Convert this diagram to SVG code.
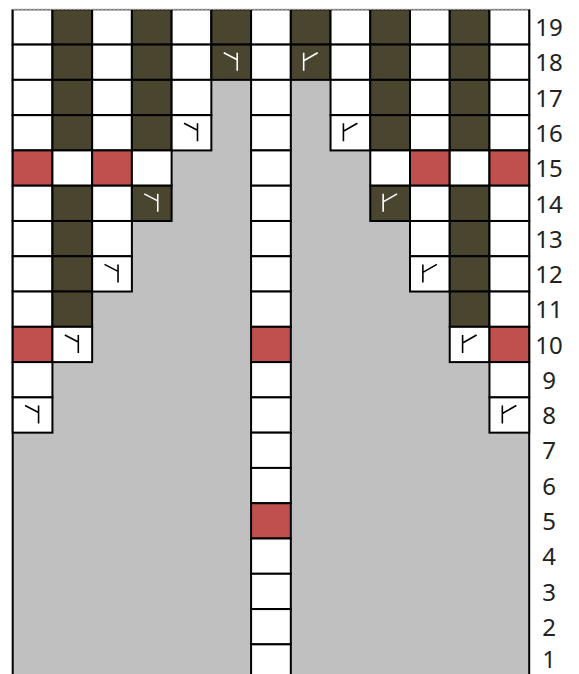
<svg xmlns="http://www.w3.org/2000/svg" xmlns:xlink="http://www.w3.org/1999/xlink" width="579" height="674" viewBox="0 0 579 674">
<style>
.w{fill:#ffffff;stroke:#000;stroke-width:2}
.d{fill:#4a452e;stroke:#000;stroke-width:2}
.r{fill:#c0504d;stroke:#000;stroke-width:2}
.sb{stroke:#000;stroke-width:1.6;fill:none}
.sw{stroke:#fff;stroke-width:1.6;fill:none}
.lbl{font-family:"Noto Sans","DejaVu Sans",sans-serif;font-size:24px;fill:#222;text-anchor:middle}
</style>
<defs>
<path id="symL" d="M-7.5,-9.5 L6,-2.5 M6,-9.5 V8.5"/>
<path id="symR" d="M7,-9.5 L-7,-1.5 M-7,-9.5 V8.5"/>
</defs>
<rect x="0" y="0" width="579" height="674" fill="#fff"/>
<rect id="background" x="12.7" y="9.3" width="516.5" height="680" fill="#c0c0c0" stroke="#000" stroke-width="2"/>
<g id="row19">
<rect class="w" x="12.7" y="9.3" width="39.73" height="35.28"/>
<rect class="d" x="52.43" y="9.3" width="39.73" height="35.28"/>
<rect class="w" x="92.16" y="9.3" width="39.73" height="35.28"/>
<rect class="d" x="131.89" y="9.3" width="39.73" height="35.28"/>
<rect class="w" x="171.62" y="9.3" width="39.73" height="35.28"/>
<rect class="d" x="211.35" y="9.3" width="39.73" height="35.28"/>
<rect class="w" x="251.08" y="9.3" width="39.73" height="35.28"/>
<rect class="d" x="290.81" y="9.3" width="39.73" height="35.28"/>
<rect class="w" x="330.54" y="9.3" width="39.73" height="35.28"/>
<rect class="d" x="370.27" y="9.3" width="39.73" height="35.28"/>
<rect class="w" x="410" y="9.3" width="39.73" height="35.28"/>
<rect class="d" x="449.73" y="9.3" width="39.73" height="35.28"/>
<rect class="w" x="489.46" y="9.3" width="39.73" height="35.28"/>
</g>
<g id="row18">
<rect class="w" x="12.7" y="44.58" width="39.73" height="35.28"/>
<rect class="d" x="52.43" y="44.58" width="39.73" height="35.28"/>
<rect class="w" x="92.16" y="44.58" width="39.73" height="35.28"/>
<rect class="d" x="131.89" y="44.58" width="39.73" height="35.28"/>
<rect class="w" x="171.62" y="44.58" width="39.73" height="35.28"/>
<rect class="d" x="211.35" y="44.58" width="39.73" height="35.28"/>
<rect class="w" x="251.08" y="44.58" width="39.73" height="35.28"/>
<rect class="d" x="290.81" y="44.58" width="39.73" height="35.28"/>
<rect class="w" x="330.54" y="44.58" width="39.73" height="35.28"/>
<rect class="d" x="370.27" y="44.58" width="39.73" height="35.28"/>
<rect class="w" x="410" y="44.58" width="39.73" height="35.28"/>
<rect class="d" x="449.73" y="44.58" width="39.73" height="35.28"/>
<rect class="w" x="489.46" y="44.58" width="39.73" height="35.28"/>
<use xlink:href="#symL" href="#symL" class="sw" x="231.22" y="62.22"/>
<use xlink:href="#symR" href="#symR" class="sw" x="310.68" y="62.22"/>
</g>
<g id="row17">
<rect class="w" x="12.7" y="79.86" width="39.73" height="35.28"/>
<rect class="d" x="52.43" y="79.86" width="39.73" height="35.28"/>
<rect class="w" x="92.16" y="79.86" width="39.73" height="35.28"/>
<rect class="d" x="131.89" y="79.86" width="39.73" height="35.28"/>
<rect class="w" x="171.62" y="79.86" width="39.73" height="35.28"/>
<rect class="w" x="251.08" y="79.86" width="39.73" height="35.28"/>
<rect class="w" x="330.54" y="79.86" width="39.73" height="35.28"/>
<rect class="d" x="370.27" y="79.86" width="39.73" height="35.28"/>
<rect class="w" x="410" y="79.86" width="39.73" height="35.28"/>
<rect class="d" x="449.73" y="79.86" width="39.73" height="35.28"/>
<rect class="w" x="489.46" y="79.86" width="39.73" height="35.28"/>
</g>
<g id="row16">
<rect class="w" x="12.7" y="115.14" width="39.73" height="35.28"/>
<rect class="d" x="52.43" y="115.14" width="39.73" height="35.28"/>
<rect class="w" x="92.16" y="115.14" width="39.73" height="35.28"/>
<rect class="d" x="131.89" y="115.14" width="39.73" height="35.28"/>
<rect class="w" x="171.62" y="115.14" width="39.73" height="35.28"/>
<rect class="w" x="251.08" y="115.14" width="39.73" height="35.28"/>
<rect class="w" x="330.54" y="115.14" width="39.73" height="35.28"/>
<rect class="d" x="370.27" y="115.14" width="39.73" height="35.28"/>
<rect class="w" x="410" y="115.14" width="39.73" height="35.28"/>
<rect class="d" x="449.73" y="115.14" width="39.73" height="35.28"/>
<rect class="w" x="489.46" y="115.14" width="39.73" height="35.28"/>
<use xlink:href="#symL" href="#symL" class="sb" x="191.49" y="132.78"/>
<use xlink:href="#symR" href="#symR" class="sb" x="350.41" y="132.78"/>
</g>
<g id="row15">
<rect class="r" x="12.7" y="150.42" width="39.73" height="35.28"/>
<rect class="w" x="52.43" y="150.42" width="39.73" height="35.28"/>
<rect class="r" x="92.16" y="150.42" width="39.73" height="35.28"/>
<rect class="w" x="131.89" y="150.42" width="39.73" height="35.28"/>
<rect class="w" x="251.08" y="150.42" width="39.73" height="35.28"/>
<rect class="w" x="370.27" y="150.42" width="39.73" height="35.28"/>
<rect class="r" x="410" y="150.42" width="39.73" height="35.28"/>
<rect class="w" x="449.73" y="150.42" width="39.73" height="35.28"/>
<rect class="r" x="489.46" y="150.42" width="39.73" height="35.28"/>
</g>
<g id="row14">
<rect class="w" x="12.7" y="185.7" width="39.73" height="35.28"/>
<rect class="d" x="52.43" y="185.7" width="39.73" height="35.28"/>
<rect class="w" x="92.16" y="185.7" width="39.73" height="35.28"/>
<rect class="d" x="131.89" y="185.7" width="39.73" height="35.28"/>
<rect class="w" x="251.08" y="185.7" width="39.73" height="35.28"/>
<rect class="d" x="370.27" y="185.7" width="39.73" height="35.28"/>
<rect class="w" x="410" y="185.7" width="39.73" height="35.28"/>
<rect class="d" x="449.73" y="185.7" width="39.73" height="35.28"/>
<rect class="w" x="489.46" y="185.7" width="39.73" height="35.28"/>
<use xlink:href="#symL" href="#symL" class="sw" x="151.76" y="203.34"/>
<use xlink:href="#symR" href="#symR" class="sw" x="390.14" y="203.34"/>
</g>
<g id="row13">
<rect class="w" x="12.7" y="220.98" width="39.73" height="35.28"/>
<rect class="d" x="52.43" y="220.98" width="39.73" height="35.28"/>
<rect class="w" x="92.16" y="220.98" width="39.73" height="35.28"/>
<rect class="w" x="251.08" y="220.98" width="39.73" height="35.28"/>
<rect class="w" x="410" y="220.98" width="39.73" height="35.28"/>
<rect class="d" x="449.73" y="220.98" width="39.73" height="35.28"/>
<rect class="w" x="489.46" y="220.98" width="39.73" height="35.28"/>
</g>
<g id="row12">
<rect class="w" x="12.7" y="256.26" width="39.73" height="35.28"/>
<rect class="d" x="52.43" y="256.26" width="39.73" height="35.28"/>
<rect class="w" x="92.16" y="256.26" width="39.73" height="35.28"/>
<rect class="w" x="251.08" y="256.26" width="39.73" height="35.28"/>
<rect class="w" x="410" y="256.26" width="39.73" height="35.28"/>
<rect class="d" x="449.73" y="256.26" width="39.73" height="35.28"/>
<rect class="w" x="489.46" y="256.26" width="39.73" height="35.28"/>
<use xlink:href="#symL" href="#symL" class="sb" x="112.03" y="273.9"/>
<use xlink:href="#symR" href="#symR" class="sb" x="429.87" y="273.9"/>
</g>
<g id="row11">
<rect class="w" x="12.7" y="291.54" width="39.73" height="35.28"/>
<rect class="d" x="52.43" y="291.54" width="39.73" height="35.28"/>
<rect class="w" x="251.08" y="291.54" width="39.73" height="35.28"/>
<rect class="d" x="449.73" y="291.54" width="39.73" height="35.28"/>
<rect class="w" x="489.46" y="291.54" width="39.73" height="35.28"/>
</g>
<g id="row10">
<rect class="r" x="12.7" y="326.82" width="39.73" height="35.28"/>
<rect class="w" x="52.43" y="326.82" width="39.73" height="35.28"/>
<rect class="r" x="251.08" y="326.82" width="39.73" height="35.28"/>
<rect class="w" x="449.73" y="326.82" width="39.73" height="35.28"/>
<rect class="r" x="489.46" y="326.82" width="39.73" height="35.28"/>
<use xlink:href="#symL" href="#symL" class="sb" x="72.3" y="344.46"/>
<use xlink:href="#symR" href="#symR" class="sb" x="469.6" y="344.46"/>
</g>
<g id="row9">
<rect class="w" x="12.7" y="362.1" width="39.73" height="35.28"/>
<rect class="w" x="251.08" y="362.1" width="39.73" height="35.28"/>
<rect class="w" x="489.46" y="362.1" width="39.73" height="35.28"/>
</g>
<g id="row8">
<rect class="w" x="12.7" y="397.38" width="39.73" height="35.28"/>
<rect class="w" x="251.08" y="397.38" width="39.73" height="35.28"/>
<rect class="w" x="489.46" y="397.38" width="39.73" height="35.28"/>
<use xlink:href="#symL" href="#symL" class="sb" x="32.57" y="415.02"/>
<use xlink:href="#symR" href="#symR" class="sb" x="509.33" y="415.02"/>
</g>
<g id="center-column">
<rect class="w" x="251.08" y="432.66" width="39.73" height="35.28"/>
<rect class="w" x="251.08" y="467.94" width="39.73" height="35.28"/>
<rect class="r" x="251.08" y="503.22" width="39.73" height="35.28"/>
<rect class="w" x="251.08" y="538.5" width="39.73" height="35.28"/>
<rect class="w" x="251.08" y="573.78" width="39.73" height="35.28"/>
<rect class="w" x="251.08" y="609.06" width="39.73" height="35.28"/>
<rect class="w" x="251.08" y="644.34" width="39.73" height="35.28"/>
</g>
<g id="top-edge">
<rect x="0" y="0" width="579" height="9.3" fill="#fff"/>
<line x1="12.7" y1="9.3" x2="529.2" y2="9.3" stroke="#9a9a9a" stroke-width="1.2" stroke-dasharray="3 1"/>
</g>
<g id="row-numbers" class="lbl">
<text x="549" y="36">19</text>
<text x="549" y="71">18</text>
<text x="549" y="106.5">17</text>
<text x="549" y="142">16</text>
<text x="549" y="177">15</text>
<text x="549" y="212.5">14</text>
<text x="549" y="247.5">13</text>
<text x="549" y="283">12</text>
<text x="549" y="318">11</text>
<text x="549" y="353.5">10</text>
<text x="549" y="389">9</text>
<text x="549" y="424">8</text>
<text x="549" y="459">7</text>
<text x="549" y="494.5">6</text>
<text x="549" y="530">5</text>
<text x="549" y="565">4</text>
<text x="549" y="600.5">3</text>
<text x="549" y="635.5">2</text>
<text x="549" y="668" font-size="23">1</text>
</g>
</svg>
